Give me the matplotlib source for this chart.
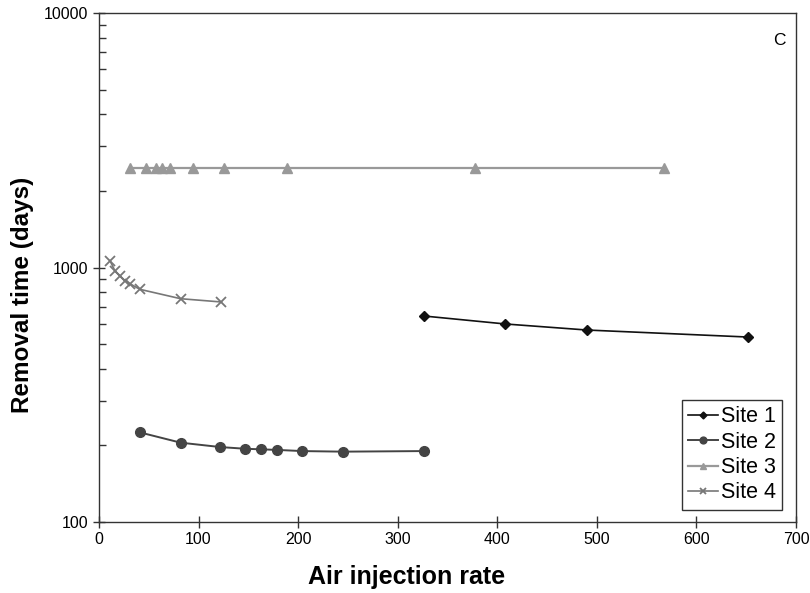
import matplotlib
matplotlib.use("Agg")
import matplotlib.pyplot as plt
from matplotlib.ticker import LogLocator, NullFormatter, FixedLocator

plt.rcParams['font.family'] = ['Liberation Sans', 'DejaVu Sans']

# data (log y axis)
site1_x = [326, 408, 490, 652]
site1_y = [645, 600, 568, 533]

site2_x = [41, 82, 122, 147, 163, 179, 204, 245, 326]
site2_y = [225, 205, 197, 194, 193, 192, 190, 189, 190]

site3_x = [31.5, 47, 57, 63, 71, 94.5, 126, 189, 378, 567]
site3_y = [2450, 2450, 2450, 2450, 2450, 2450, 2450, 2450, 2450, 2450]

site4_x = [11, 16, 21, 26, 31, 41, 82, 123]
site4_y = [1064, 971, 926, 888, 864, 821, 754, 732]

labels = ['Site 1', 'Site 2', 'Site 3', 'Site 4']

fig = plt.figure(figsize=(8.1, 5.93), dpi=100)
ax = fig.add_axes([0.1222, 0.1197, 0.8605, 0.8584])

ax.plot(site1_x, site1_y, color='#111111', lw=1.2, marker='D', ms=5, label=labels[0])
ax.plot(site2_x, site2_y, color='#444444', lw=1.4, marker='o', ms=7, label=labels[1])
ax.plot(site3_x, site3_y, color='#999999', lw=1.6, marker='^', ms=7, label=labels[2])
ax.plot(site4_x, site4_y, color='#777777', lw=1.2, marker='x', ms=7, mew=1.3, label=labels[3])

ax.set_yscale('log')
ax.set_ylim(100, 10000)
ax.set_xlim(0, 700)
ax.xaxis.set_major_locator(FixedLocator(range(0, 701, 100)))
ax.yaxis.set_major_locator(LogLocator(base=10))
ax.yaxis.set_minor_locator(LogLocator(base=10, subs=range(2, 10)))
ax.yaxis.set_minor_formatter(NullFormatter())
ax.yaxis.set_major_formatter(plt.FuncFormatter(lambda v, p: '%d' % v))

ax.tick_params(which='major', direction='inout', length=8, width=1, labelsize=11.5, color='#333333')
ax.tick_params(which='minor', direction='in', length=5, width=1, color='#333333')
for s in ax.spines.values():
    s.set_color('#333333')
    s.set_linewidth(1)

ax.set_xlabel('Air injection rate', fontsize=18, fontweight='bold', labelpad=6)
ax.xaxis.set_label_coords(0.442, -0.085)
ax.set_ylabel('Removal time (days)', fontsize=17.5, fontweight='bold')
ax.yaxis.set_label_coords(-0.093, 0.447)

ax.text(0.985, 0.96, 'C', transform=ax.transAxes, ha='right', va='top', fontsize=12.5)

leg = ax.legend(loc='lower right', fontsize=15.5, handlelength=1.4, handletextpad=0.1,
                labelspacing=0.2, borderpad=0.3, fancybox=False, framealpha=1,
                markerscale=0.7, bbox_to_anchor=(0.98, 0.024), borderaxespad=0)
leg.get_frame().set_edgecolor('#333333')
leg.get_frame().set_linewidth(1)

fig.savefig('out.png', dpi=100)
